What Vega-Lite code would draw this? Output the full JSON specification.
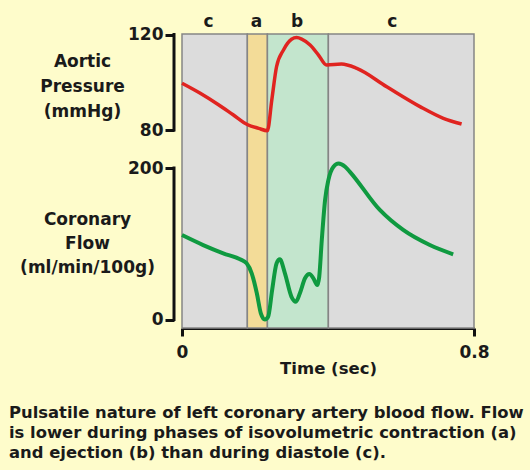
{
  "$schema": "https://vega.github.io/schema/vega-lite/v6.json",
  "width": 292,
  "height": 294,
  "autosize": {"type": "none"},
  "padding": {"left": 182, "top": 34, "right": 56, "bottom": 142},
  "background": "#fefccb",
  "config": {"view": {"stroke": null}, "font": "DejaVu Sans"},
  "title": {
    "text": ["Pulsatile nature of left coronary artery blood flow.  Flow", "is lower during phases of isovolumetric contraction (a)", "and ejection (b) than during diastole (c)."],
    "orient": "bottom",
    "anchor": "start",
    "frame": "group",
    "dx": -173,
    "offset": 28,
    "fontSize": 16.4,
    "fontWeight": "bold",
    "font": "DejaVu Sans",
    "lineHeight": 20,
    "color": "#1a1a1a"
  },
  "datasets": {
    "bands": [
      {"phase": "c1", "start": 0, "end": 0.179},
      {"phase": "a", "start": 0.179, "end": 0.234},
      {"phase": "b", "start": 0.234, "end": 0.401},
      {"phase": "c2", "start": 0.401, "end": 0.8}
    ],
    "pressure": [
      {"t": 0, "v": 99.6},
      {"t": 0.05, "v": 95.4},
      {"t": 0.1, "v": 90.6},
      {"t": 0.14, "v": 86.4},
      {"t": 0.18, "v": 82.2},
      {"t": 0.21, "v": 80.7},
      {"t": 0.234, "v": 79.7},
      {"t": 0.246, "v": 92.6},
      {"t": 0.259, "v": 106.5},
      {"t": 0.278, "v": 113.5},
      {"t": 0.3, "v": 118},
      {"t": 0.314, "v": 118.7},
      {"t": 0.328, "v": 118.1},
      {"t": 0.351, "v": 115.6},
      {"t": 0.374, "v": 111.4},
      {"t": 0.396, "v": 107.2},
      {"t": 0.437, "v": 107.6},
      {"t": 0.479, "v": 105.8},
      {"t": 0.561, "v": 98.1},
      {"t": 0.652, "v": 89.8},
      {"t": 0.716, "v": 84.9},
      {"t": 0.766, "v": 82.5}
    ],
    "flow": [
      {"t": 0, "v": 111.5},
      {"t": 0.058, "v": 98.3},
      {"t": 0.113, "v": 87.4},
      {"t": 0.159, "v": 79.5},
      {"t": 0.177, "v": 74.2},
      {"t": 0.191, "v": 61},
      {"t": 0.205, "v": 34.6},
      {"t": 0.216, "v": 8.2},
      {"t": 0.227, "v": 0},
      {"t": 0.236, "v": 3.7},
      {"t": 0.247, "v": 39},
      {"t": 0.259, "v": 74},
      {"t": 0.268, "v": 79.5},
      {"t": 0.282, "v": 61},
      {"t": 0.3, "v": 30},
      {"t": 0.312, "v": 23.5},
      {"t": 0.323, "v": 34.6},
      {"t": 0.337, "v": 54.4},
      {"t": 0.349, "v": 60},
      {"t": 0.36, "v": 54.4},
      {"t": 0.371, "v": 45.5},
      {"t": 0.376, "v": 56.5},
      {"t": 0.383, "v": 105},
      {"t": 0.392, "v": 157.8},
      {"t": 0.401, "v": 184},
      {"t": 0.415, "v": 201.7},
      {"t": 0.429, "v": 206},
      {"t": 0.447, "v": 201.7},
      {"t": 0.46, "v": 195},
      {"t": 0.542, "v": 144.6},
      {"t": 0.606, "v": 118.2},
      {"t": 0.679, "v": 98.3},
      {"t": 0.743, "v": 86.1}
    ],
    "pressureRange": [{"t": -0.0219, "lo": 80, "hi": 120}],
    "flowRange": [{"t": -0.0219, "lo": 0, "hi": 200}]
  },
  "layer": [
    {
      "data": {"name": "bands"},
      "mark": {"type": "rect", "stroke": "#858585", "strokeWidth": 1.5},
      "encoding": {
        "x": {
          "field": "start", "type": "quantitative",
          "scale": {"domain": [0, 0.8], "nice": false, "zero": false},
          "axis": {
            "orient": "top", "values": [0.071, 0.203, 0.314, 0.575],
            "labelExpr": "datum.value < 0.1 ? 'c' : datum.value < 0.25 ? 'a' : datum.value < 0.4 ? 'b' : 'c'",
            "domain": false, "ticks": false, "grid": false, "title": null,
            "labelFontSize": 17, "labelFontWeight": "bold", "labelColor": "#1a1a1a",
            "labelPadding": 4, "labelFlush": false, "labelFont": "DejaVu Sans"
          }
        },
        "x2": {"field": "end"},
        "color": {
          "field": "phase", "type": "nominal", "legend": null,
          "scale": {"domain": ["c1", "a", "b", "c2"], "range": ["#dcdcdc", "#f3dc98", "#c3e5cd", "#dcdcdc"]}
        }
      }
    },
    {
      "layer": [
        {
          "data": {"name": "pressure"},
          "mark": {"type": "line", "interpolate": "monotone", "color": "#e02420", "strokeWidth": 3.5},
          "encoding": {
            "x": {
              "field": "t", "type": "quantitative",
              "scale": {"domain": [0, 0.8], "nice": false, "zero": false},
              "axis": {
                "orient": "bottom", "values": [0, 0.8], "format": "~g",
                "domainColor": "#111", "domainWidth": 3, "tickColor": "#111", "tickWidth": 3, "tickSize": 8,
                "grid": false, "labelFlush": false,
                "labelFontSize": 17, "labelFontWeight": "bold", "labelColor": "#1a1a1a", "labelPadding": 8,
                "title": "Time (sec)", "titleFontSize": 16.5, "titleFontWeight": "bold", "titleColor": "#1a1a1a",
                "titlePadding": 0, "titleFont": "DejaVu Sans", "labelFont": "DejaVu Sans"
              }
            },
            "y": {
              "field": "v", "type": "quantitative",
              "scale": {"domain": [-2.93, 120.21], "nice": false, "zero": false},
              "axis": {
                "orient": "left", "values": [80, 120], "format": "d",
                "domain": false, "grid": false, "offset": 8,
                "tickColor": "#111", "tickWidth": 3, "tickSize": 9,
                "labelFontSize": 17, "labelFontWeight": "bold", "labelColor": "#1a1a1a", "labelPadding": 2,
                "labelFont": "DejaVu Sans",
                "title": ["Aortic", "Pressure", "(mmHg)"], "titleAngle": 0, "titleAlign": "center",
                "titleBaseline": "top", "titleX": -92, "titleY": 19, "titleLineHeight": 25,
                "titleFontSize": 17, "titleFontWeight": "bold", "titleColor": "#1a1a1a", "titleFont": "DejaVu Sans"
              }
            }
          }
        },
        {
          "data": {"name": "pressureRange"},
          "mark": {"type": "rule", "color": "#111", "strokeWidth": 3, "strokeCap": "square"},
          "encoding": {
            "x": {"field": "t", "type": "quantitative"},
            "y": {"field": "lo", "type": "quantitative"},
            "y2": {"field": "hi"}
          }
        }
      ]
    },
    {
      "layer": [
        {
          "data": {"name": "flow"},
          "mark": {"type": "line", "interpolate": "monotone", "color": "#0f9a40", "strokeWidth": 4},
          "encoding": {
            "x": {"field": "t", "type": "quantitative", "axis": null},
            "y": {
              "field": "v", "type": "quantitative",
              "scale": {"domain": [-11.2, 376.9], "nice": false, "zero": false},
              "axis": {
                "orient": "left", "values": [0, 200], "format": "d",
                "domain": false, "grid": false, "offset": 8,
                "tickColor": "#111", "tickWidth": 3, "tickSize": 9,
                "labelFontSize": 17, "labelFontWeight": "bold", "labelColor": "#1a1a1a", "labelPadding": 2,
                "labelFont": "DejaVu Sans",
                "title": ["Coronary", "Flow", "(ml/min/100g)"], "titleAngle": 0, "titleAlign": "center",
                "titleBaseline": "top", "titleX": -87, "titleY": 177, "titleLineHeight": 24,
                "titleFontSize": 17, "titleFontWeight": "bold", "titleColor": "#1a1a1a", "titleFont": "DejaVu Sans"
              }
            }
          }
        },
        {
          "data": {"name": "flowRange"},
          "mark": {"type": "rule", "color": "#111", "strokeWidth": 3, "strokeCap": "square"},
          "encoding": {
            "x": {"field": "t", "type": "quantitative", "axis": null},
            "y": {"field": "lo", "type": "quantitative"},
            "y2": {"field": "hi"}
          }
        }
      ]
    }
  ],
  "resolve": {"scale": {"y": "independent"}, "axis": {"x": "independent"}}
}
